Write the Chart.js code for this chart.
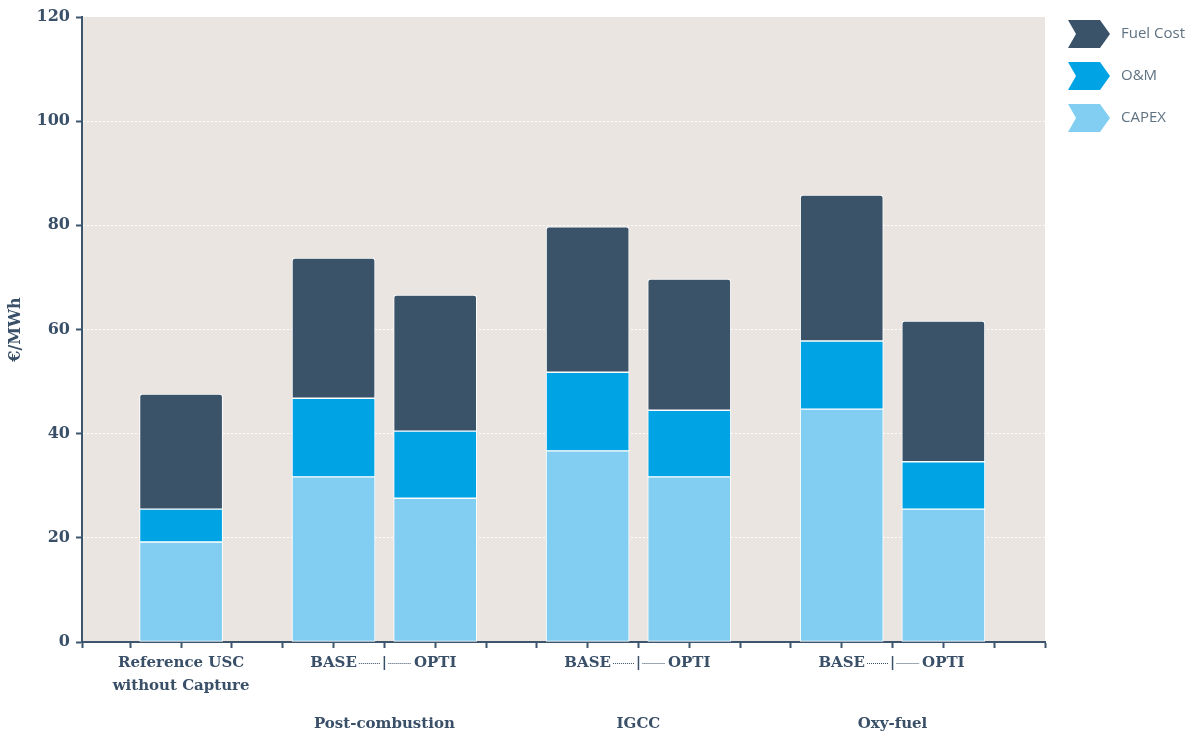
<!DOCTYPE html>
<html><head><meta charset="utf-8">
<script src="https://cdn.jsdelivr.net/npm/chart.js@4"></script>
<style>html,body{margin:0;padding:0;background:#fff}</style>
</head><body>
<canvas id="c" width="1193" height="734"></canvas>
<script>
const categories = ["Reference USC\nwithout Capture","BASE","OPTI","BASE","OPTI","BASE","OPTI"];
const slots = [1,4,6,9,11,14,16];
const groups = ["Post-combustion","IGCC","Oxy-fuel"];
const groupSlots = [5,10,15];
const xTickSlots = [-0.95,0,1,2,3,4,5,6,7,8,9,10,11,12,13,14,15,16,17,18];
const capex = [19.2,31.7,27.6,36.7,31.7,44.7,25.5];
const om = [6.3,15.1,12.9,15.1,12.8,13.1,9.1];
const fuel = [22.1,26.9,26.1,27.9,25.2,28.0,27.0];
const seriesNames = ["CAPEX","O&M","Fuel Cost"];
const seriesColors = ["#82cef2","#00a3e4","#3a5369"];
const yTitle = "€/MWh";

const TEXT = "#3a5068";
const AXIS = "#3d566e";
const SERIF = "'DejaVu Serif', serif";
const LABEL_FONT = "bold 15px " + SERIF;

function pts(vals){ return vals.map((v,i)=>({x:slots[i], y:v})); }
function xLabel(v){ const i = slots.indexOf(v); return i<0 ? '' : categories[i].split('\n'); }

const bgPlugin = {
  id:'bg',
  beforeDraw(chart){
    const {ctx, chartArea:a} = chart;
    ctx.save(); ctx.fillStyle = "#ebe5e2";
    ctx.fillRect(a.left, a.top, a.right-a.left, a.bottom-a.top);
    ctx.restore();
  },
  afterDraw(chart){
    const ctx = chart.ctx, xs = chart.scales.x;
    ctx.save();
    ctx.font = LABEL_FONT;
    ctx.fillStyle = TEXT; ctx.strokeStyle = TEXT;
    const yMid = 663;
    groupSlots.forEach((g, gi)=>{
      const gx = xs.getPixelForValue(g);
      const baseIdx = slots.indexOf(g-1), optiIdx = slots.indexOf(g+1);
      const bx = xs.getPixelForValue(slots[baseIdx]) + ctx.measureText(categories[baseIdx]).width/2 + 2;
      const ox = xs.getPixelForValue(slots[optiIdx]) - ctx.measureText(categories[optiIdx]).width/2 - 3;
      ctx.lineWidth = 1; ctx.setLineDash([1,1]);
      ctx.beginPath();
      ctx.moveTo(bx, yMid+0.5); ctx.lineTo(gx-4, yMid+0.5);
      ctx.moveTo(gx+4, yMid+0.5); ctx.lineTo(ox, yMid+0.5);
      ctx.stroke();
      ctx.setLineDash([]); ctx.lineWidth = 1.5;
      ctx.beginPath(); ctx.moveTo(gx, 656); ctx.lineTo(gx, 670); ctx.stroke();
      ctx.textAlign = 'center'; ctx.textBaseline = 'middle';
      ctx.fillText(groups[gi], gx, 724);
    });
    const order = [2,1,0];
    order.forEach((si, i)=>{
      const top = 20 + 42*i, h = 28, l = 1068, r = 1110, mid = top + h/2;
      ctx.fillStyle = seriesColors[si];
      ctx.beginPath();
      ctx.moveTo(l, top); ctx.lineTo(r-10, top); ctx.lineTo(r, mid);
      ctx.lineTo(r-10, top+h); ctx.lineTo(l, top+h); ctx.lineTo(l+8, mid);
      ctx.closePath(); ctx.fill();
      ctx.fillStyle = "#5f7282";
      ctx.font = "15px 'Open Sans', sans-serif";
      ctx.textAlign = 'left'; ctx.textBaseline = 'middle';
      ctx.fillText(seriesNames[si], 1121, mid);
    });
    ctx.restore();
  }
};

const datasets = [capex, om, fuel].map((vals, i)=>({
  label: seriesNames[i],
  data: pts(vals),
  backgroundColor: seriesColors[i],
  borderColor: "#ffffff",
  borderWidth: 1,
  borderSkipped: false,
  borderRadius: i===2 ? {topLeft:3, topRight:3, bottomLeft:0, bottomRight:0} : 0,
  barThickness: 83
}));

new Chart(document.getElementById('c'), {
  type: 'bar',
  data: { datasets },
  plugins: [bgPlugin],
  options: {
    responsive: false,
    animation: false,
    layout: { padding: { top: 17, right: 148, bottom: 0, left: 0 } },
    plugins: { legend: { display: false }, tooltip: { enabled: false } },
    scales: {
      x: {
        type: 'linear', stacked: true, min: -0.95, max: 18, offset: false,
        afterFit(s){ s.height = 92; },
        afterBuildTicks(s){ s.ticks = xTickSlots.map(v=>({value:v})); },
        ticks: {
          autoSkip: false, maxRotation: 0, minRotation: 0, padding: 4,
          color: TEXT, font: { family: SERIF, size: 15, weight: 'bold', lineHeight: 1.53 },
          callback(v){ return xLabel(v); }
        },
        grid: { offset: false, drawOnChartArea: false, tickLength: 6, tickColor: AXIS, tickWidth: 2 },
        border: { color: AXIS, width: 2 }
      },
      y: {
        stacked: true, min: 0, max: 120,
        afterFit(s){ s.width = 82; },
        ticks: { stepSize: 20, padding: 6, color: TEXT, font: { family: SERIF, size: 16, weight: 'bold' } },
        grid: {
          color: (c)=> (c.tick && (c.tick.value===0 || c.tick.value===120)) ? 'rgba(0,0,0,0)' : '#ffffff',
          lineWidth: 1, tickLength: 6, tickColor: AXIS, tickWidth: 2
        },
        border: { color: AXIS, width: 2, dash: [2,2] },
        title: { display: true, text: yTitle, color: TEXT, padding: { top: 6, bottom: 4 },
                 font: { family: SERIF, size: 16, weight: 'bold' } }
      }
    }
  }
});
</script>
</body></html>
